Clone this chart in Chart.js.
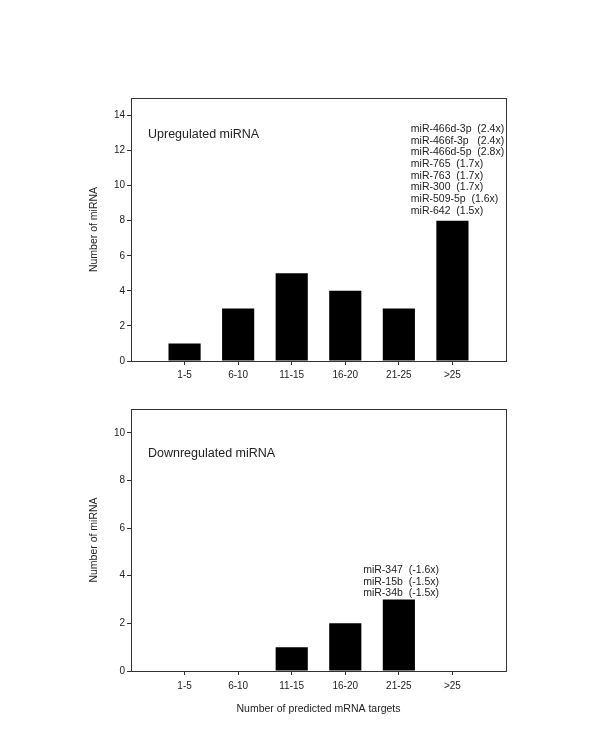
<!DOCTYPE html>
<html>
<head>
<meta charset="utf-8">
<script src="https://cdn.jsdelivr.net/npm/chart.js@4.4.1/dist/chart.umd.min.js"></script>
<style>
    html, body { margin: 0; padding: 0; background: #fff; }
    #wrap { position: relative; width: 600px; height: 750px; }
    canvas { position: absolute; left: 0; }
    #upChart { top: 0; }
    #downChart { top: 385px; }
</style>
</head>
<body>
<div id="wrap">
    <canvas id="upChart" width="600" height="385"></canvas>
    <canvas id="downChart" width="600" height="365"></canvas>
</div>
<script>
// Datos del gráfico
const categories = ['1-5', '6-10', '11-15', '16-20', '21-25', '>25'];
const upCounts = [1, 3, 5, 4, 3, 8];
const downCounts = [0, 0, 1, 2, 3, 0];
const upTicks = [0, 2, 4, 6, 8, 10, 12, 14];
const downTicks = [0, 2, 4, 6, 8, 10];
const upNotes = [
    'miR-466d-3p  (2.4x)',
    'miR-466f-3p   (2.4x)',
    'miR-466d-5p  (2.8x)',
    'miR-765  (1.7x)',
    'miR-763  (1.7x)',
    'miR-300  (1.7x)',
    'miR-509-5p  (1.6x)',
    'miR-642  (1.5x)'
];
const downNotes = [
    'miR-347  (-1.6x)',
    'miR-15b  (-1.5x)',
    'miR-34b  (-1.5x)'
];

const FONT = "Arial, 'Liberation Sans', sans-serif";
const INK = '#222';
const AXIS = '#333';

// categorías vacías a cada lado, como en la figura original
const labels = [''].concat(categories, ['']);
function padded(values) {
    return [null].concat(values, [null]);
}

// marco completo alrededor del área del gráfico + texto del panel
const framePlugin = {
    id: 'frame',
    afterDraw(chart, args, opts) {
        const a = chart.chartArea;
        const c = chart.ctx;
        c.save();
        c.strokeStyle = AXIS;
        c.lineWidth = 1;
        c.strokeRect(Math.round(a.left) + 0.5, Math.round(a.top) + 0.5,
            Math.round(a.right - a.left), Math.round(a.bottom - a.top));
        c.fillStyle = INK;
        c.font = '12.5px ' + FONT;
        c.textAlign = 'left';
        c.textBaseline = 'middle';
        c.fillText(opts.text, a.left + 17, a.top + opts.dy);
        c.restore();
    }
};

// lista de miRNA encima de una barra
const notesPlugin = {
    id: 'barNotes',
    afterDatasetsDraw(chart, args, opts) {
        const bar = chart.getDatasetMeta(0).data[opts.index];
        if (!bar) return;
        const c = chart.ctx;
        c.save();
        c.fillStyle = INK;
        c.font = '10.5px ' + FONT;
        c.textAlign = 'left';
        c.textBaseline = 'middle';
        const n = opts.lines.length;
        opts.lines.forEach(function(line, i) {
            const y = bar.y - opts.gap - (n - 1 - i) * opts.lineHeight;
            c.fillText(line, bar.x + opts.dx, y);
        });
        c.restore();
    }
};

function buildChart(id, values, yMax, yTicks, opts) {
    const ctx = document.getElementById(id).getContext('2d');
    return new Chart(ctx, {
        type: 'bar',
        data: {
            labels: labels,
            datasets: [{
                data: padded(values),
                backgroundColor: '#000',
                borderWidth: 0,
                categoryPercentage: 1,
                barPercentage: 0.6
            }]
        },
        options: {
            responsive: false,
            animation: false,
            events: [],
            layout: { padding: opts.padding },
            plugins: {
                legend: { display: false },
                tooltip: { enabled: false },
                frame: { text: opts.title, dy: opts.titleDy },
                barNotes: opts.notes
            },
            scales: {
                x: {
                    offset: false,
                    grid: {
                        offset: false,
                        drawOnChartArea: false,
                        drawTicks: true,
                        tickLength: 4,
                        // sin marcas en los extremos vacíos
                        color: function(c) {
                            return (c.index === 0 || c.index === labels.length - 1) ? 'rgba(0,0,0,0)' : AXIS;
                        }
                    },
                    border: { display: false },
                    ticks: {
                        color: INK,
                        font: { family: FONT, size: 10 },
                        padding: opts.xPad,
                        maxRotation: 0,
                        autoSkip: false
                    },
                    title: {
                        display: !!opts.xTitle,
                        text: opts.xTitle || '',
                        color: INK,
                        font: { family: FONT, size: 10.5 },
                        padding: { top: 0, bottom: 5 }
                    },
                    afterFit: function(scale) { scale.height = opts.xHeight; }
                },
                y: {
                    min: 0,
                    max: yMax,
                    grid: {
                        drawOnChartArea: false,
                        drawTicks: true,
                        tickLength: 4,
                        color: AXIS
                    },
                    border: { display: false },
                    ticks: {
                        color: INK,
                        font: { family: FONT, size: 10 },
                        padding: 2
                    },
                    afterBuildTicks: function(scale) {
                        scale.ticks = yTicks.map(v => ({ value: v }));
                    },
                    title: {
                        display: true,
                        text: 'Number of miRNA',
                        color: INK,
                        font: { family: FONT, size: 10.5 },
                        padding: { top: 6, bottom: 0 }
                    },
                    afterFit: function(scale) { scale.width = 49; }
                }
            }
        },
        plugins: [framePlugin, notesPlugin]
    });
}

buildChart('upChart', upCounts, 15, upTicks, {
    padding: { left: 82, top: 98, right: 94, bottom: 0 },
    xHeight: 24,
    xPad: 4,
    title: 'Upregulated miRNA',
    titleDy: 36.3,
    notes: { index: 6, lines: upNotes, dx: -41.6, gap: 10, lineHeight: 11.65 }
});

buildChart('downChart', downCounts, 11, downTicks, {
    padding: { left: 82, top: 24, right: 94, bottom: 30 },
    xHeight: 49,
    xPad: 5,
    xTitle: 'Number of predicted mRNA targets',
    title: 'Downregulated miRNA',
    titleDy: 44.3,
    notes: { index: 5, lines: downNotes, dx: -35.7, gap: 6.2, lineHeight: 11.65 }
});
</script>
</body>
</html>
